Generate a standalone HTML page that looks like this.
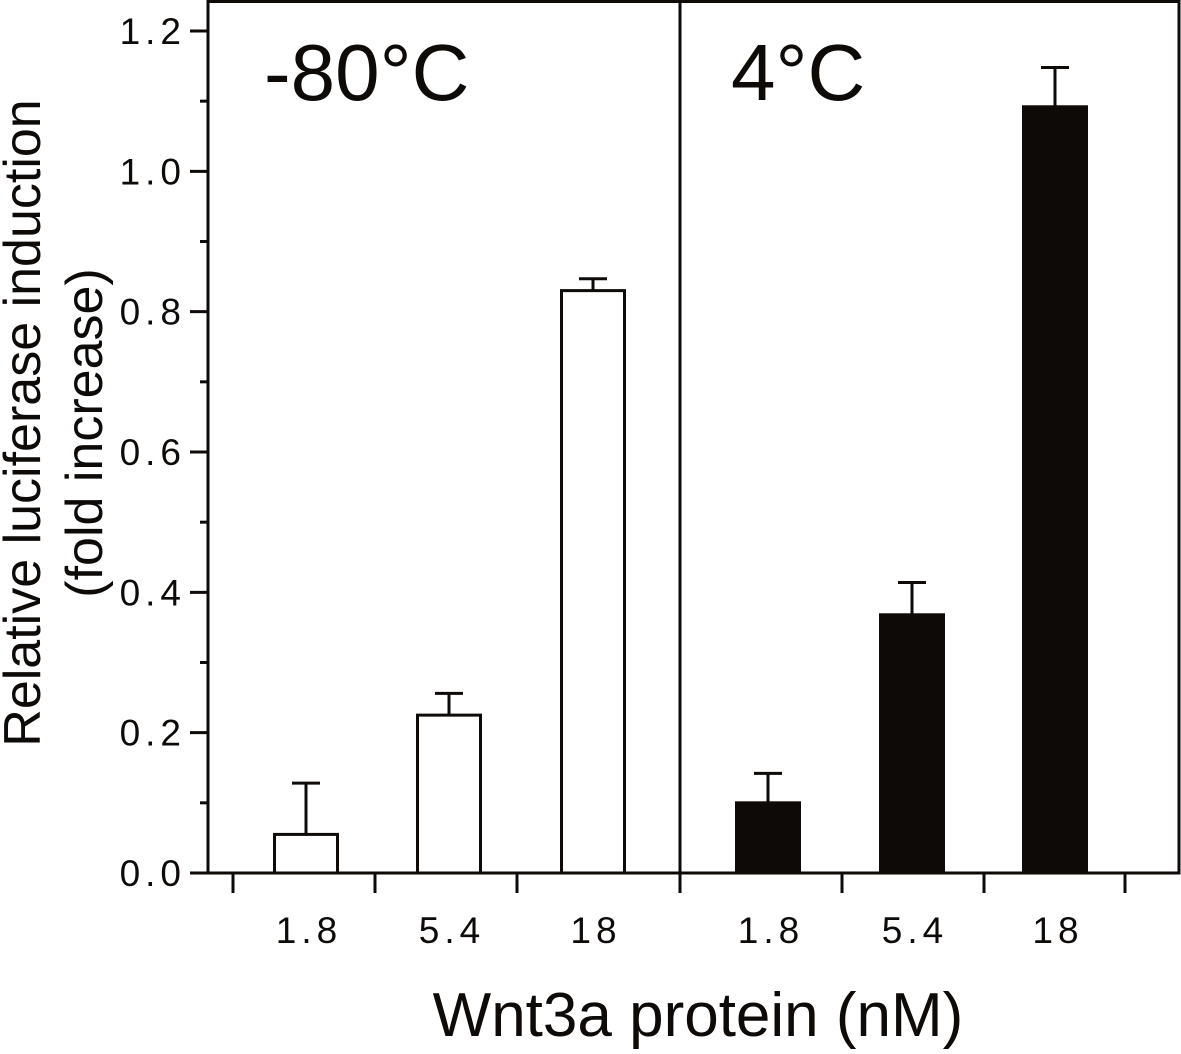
<!DOCTYPE html>
<html><head><meta charset="utf-8"><style>
body{margin:0;background:#fff}
svg text{font-family:"Liberation Sans",Arial,sans-serif;fill:#0d0a08}
</style></head><body>
<svg id="c" width="1181" height="1049" viewBox="0 0 1181 1049" xmlns="http://www.w3.org/2000/svg">
<g id="g"></g>
</svg>
<script>
const categories=["1.8","5.4","18"];
const groups=["-80°C","4°C"];
const valuesCold=[0.055,0.225,0.83];
const errCold=[0.128,0.256,0.847];
const valuesWarm=[0.1,0.368,1.092];
const errWarm=[0.142,0.414,1.148];
const yTicks=[0,0.2,0.4,0.6,0.8,1.0,1.2];
const yTickLabels=["0.0","0.2","0.4","0.6","0.8","1.0","1.2"];

const NS="http://www.w3.org/2000/svg";
const g=document.getElementById('g');
const X0=208,X1=1179,XM=680,Y0=873,YT=31;
function y(v){return Y0-(v/1.2)*(Y0-YT);}
function mk(t,a,name){const e=document.createElementNS(NS,t);for(const k in a)e.setAttribute(k,a[k]);


g.appendChild(e);return e;}
const st={stroke:"#0d0a08","stroke-width":3,fill:"none"};
mk('rect',Object.assign({x:X0,y:1.5,width:X1-X0,height:Y0-1.5},st),'plot-frame');
mk('line',Object.assign({x1:XM,y1:1,x2:XM,y2:Y0},st),'panel-divider');
for(let k=0;k<=12;k++){const v=k*0.1;const major=k%2===0;
mk('line',Object.assign({x1:major?190:200,x2:X0,y1:y(v),y2:y(v)},st),'y-tick');}
yTicks.forEach((v,i)=>{const t=mk('text',{x:186,y:y(v)+13,'text-anchor':'end','font-size':37,'letter-spacing':5},'y-tick-label');t.textContent=yTickLabels[i];});
[233,375,517,XM,842,984,1125].forEach(x=>mk('line',Object.assign({x1:x,x2:x,y1:Y0,y2:893},st),'x-tick'));
const centers=[[306,449,593],[768,912,1055]];
const bw=63;
[[valuesCold,errCold],[valuesWarm,errWarm]].forEach((s,p)=>{
 s[0].forEach((v,i)=>{const cx=centers[p][i];
  mk('line',Object.assign({x1:cx,x2:cx,y1:y(v),y2:y(s[1][i])},st),'error-bar');
  mk('line',Object.assign({x1:cx-14,x2:cx+14,y1:y(s[1][i]),y2:y(s[1][i])},st),'error-cap');
  mk('rect',{x:cx-bw/2,y:y(v),width:bw,height:Y0-y(v),fill:p?"#0d0a08":"#fff",stroke:"#0d0a08","stroke-width":3},'bar-'+groups[p]+'-'+categories[i]);
  const t=mk('text',{x:cx+3,y:943,'text-anchor':'middle','font-size':37,'letter-spacing':5},'x-tick-label');t.textContent=categories[i];
 });
});
let t=mk('text',{x:264,y:100,'font-size':80},'panel-label-minus80');t.textContent=groups[0];
t=mk('text',{x:731,y:100,'font-size':80},'panel-label-4');t.textContent=groups[1];
t=mk('text',{x:698,y:1036,'text-anchor':'middle','font-size':62},'x-axis-title');t.textContent="Wnt3a protein (nM)";
t=mk('text',{x:0,y:0,'text-anchor':'middle','font-size':52,transform:'translate(40,423) rotate(-90)'},'y-axis-title');t.textContent="Relative luciferase induction";
t=mk('text',{x:0,y:0,'text-anchor':'middle','font-size':52,transform:'translate(102,433) rotate(-90)'},'y-axis-subtitle');t.textContent="(fold increase)";
</script>
</body></html>
